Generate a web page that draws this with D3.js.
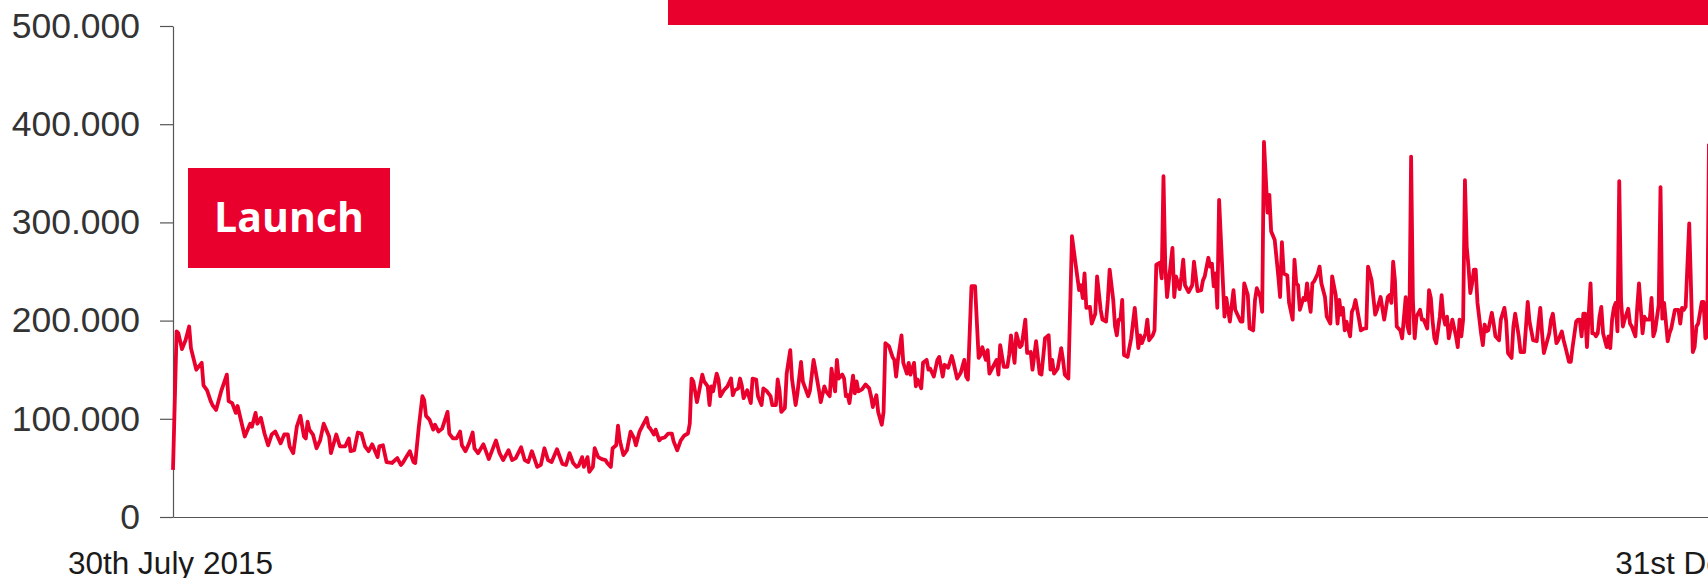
<!DOCTYPE html>
<html>
<head>
<meta charset="utf-8">
<script src="https://cdn.jsdelivr.net/npm/d3@7"></script>
<style>
  html, body { margin: 0; padding: 0; background: #fff; overflow: hidden; }
  svg { display: block; }
</style>
</head>
<body>
<svg id="visitors-chart" width="1708" height="578"></svg>
<script>
const svg = d3.select('#visitors-chart');

const width = +svg.attr('width');
const height = +svg.attr('height');

// first and last day of the x axis
const startDate = new Date(2015, 6, 30);
const endDate = new Date(2017, 11, 31);
const xTickLabels = ['30th July 2015', '31st December 2017'];
const yTicks = [0, 100, 200, 300, 400, 500];
const launchLabel = 'Launch';

// days after 30th July 2015, and daily visitors in thousands on that day
const dayOffsets = [
  0,2,3,5,7,9,10,13,16,17, 19,21,22,24,27,30,31,33,35,36,
  40,43,44,46,47,49,51,53,55,57, 60,62,64,65,67,69,71,73,74,75,
  76,78,80,82,84,87,88,91,93,96, 98,99,101,103,105,107,109,111,114,115,
  117,119,122,125,127,128,130,132,134,135, 137,139,140,141,143,
  145,146,148,150,153,154,156,158,160,161, 163,165,167,168,170,173,176,180,182,184,
  187,189,191,194,196,198,200,203,205,207, 209,211,214,217,219,221,223,225,226,228,
  229,231,232,234,235,237,239,241,242,244, 245,247,248,249,251,253,255,257,258,260,
  262,264,265,266,268,269,271,272,274,276, 278,279,281,283,
  285,287,288,289,290,292,293,295,296,298, 299,300,301,303,304,305,307,309,311,312,
  313,315,316,317,318,320,322,323,325,326, 328,329,331,333,334,336,337,338,339,341,
  342,344,345,347,348,350,351,352,354,355, 357,358,360,361,363,364,366,367,368,369,
  370,371,373,374,375,376,377,379,380,381, 382,384,386,388,389,390,392,393,395,396,
  397,399,401,402,403,404,406,407,409,410, 411,413,414,415,417,418,420,421,422,424,
  426,427,
  429,430,432,434,435,437,439,441,442,443, 445,447,449,450,451,453,454,455,457,459,
  460,461,463,465,466,467,469,470,472,473, 475,476,478,479,481,483,484,486,488,489,
  490,491,493,495,496,497,499,501,503,505, 506,507,508,509,511,512,514,515,517,518,
  520,521,522,524,525,526,527,528,529,530, 532,534,536,538,539,540,542,543,544,546,
  547,548,550,551,552,553,554,557,558,559, 561,562,563,564,566,568,569,
  571,573,574,575,577,578,579,580,581,582, 583,586,587,589,591,592,593,595,596,597,
  599,600,602,603,604,606,607,608,610,611, 612,614,616,617,618,619,621,622,624,625,
  626,627,628,630,631,632,633,634,635,636, 638,639,640,642,643,645,646,648,649,650,
  651,652,653,654,656,657,658,659,661,662, 664,665,666,668,670,671,673,675,677,678,
  679,680,681,682,684,685,687,688,689,690, 691,692,693,695,696,697,699,700,701,702,
  703,704,706,707,708,709,710,711,
  713,715,716,717,718,719,720,721,722,723, 724,725,726,727,729,730,731,732,733,735,
  736,737,739,740,742,743,744,746,747,748, 750,751,753,755,756,758,760,761,762,763,
  764,767,768,769,771,772,774,775,776,778, 779,780,782,783,784,785,786,787,788,789,
  790,791,792,793,794,795,796,797,799,800, 801,802,803,804,805,806,807,808,809,811,
  812,813,815,816,817,819,820,821,823,824, 825,826,828,829,830,831,833,834,835,837,
  839,840,841,842,843,845,847,848,849,850, 852,853,854,855,856
];
const visitors = [
  48,189,187,171,180,194,172,150,157,134, 129,118,114,109,129,145,118,116,106,113,
  82,95,92,106,95,101,85,73,84,87, 75,84,84,72,65,92,103,82,80,97,
  89,84,70,78,95,82,65,84,72,72, 80,67,68,86,85,72,67,74,61,72,
  73,56,55,60,53,55,61,67,56,55, 92,123,119,103,99,
  89,94,87,90,107,85,80,80,87,73, 67,75,86,70,65,74,59,78,65,58,
  68,58,60,71,58,56,67,51,53,70, 58,56,69,54,53,65,55,51,52,61,
  51,61,46,51,70,61,59,58,55,51, 70,73,93,78,63,68,87,80,73,87,
  94,101,92,90,84,89,78,80,81,85, 85,77,68,78,
  83,85,95,141,138,117,126,145,138,133, 114,133,128,146,140,123,129,133,141,124,
  129,131,141,134,121,129,116,141,140,123, 114,131,128,123,114,114,140,129,107,111,
  146,170,140,114,126,158,138,133,123,129, 160,150,129,117,133,128,123,151,138,128,
  160,141,145,141,123,124,116,144,126,138, 128,130,135,131,123,112,124,107,94,107,
  177,174,163,160,143,160,185,157,146,157, 145,157,133,140,131,157,160,150,151,143,
  160,163,
  143,155,152,164,157,141,147,160,143,140, 235,235,162,165,173,160,170,146,153,160,
  145,175,153,153,165,185,157,187,173,175, 201,167,168,150,179,146,145,182,185,150,
  160,146,151,172,160,145,141,286,258,231, 236,223,248,213,214,197,207,245,211,201,
  199,221,252,221,194,185,201,201,221,165, 163,182,213,172,185,177,187,201,180,185,
  190,257,259,243,347,255,224,274,224,245, 232,245,262,236,229,236,260,
  230,231,241,245,264,255,258,235,248,213, 323,204,223,199,231,211,207,199,199,238,
  226,192,190,221,233,224,209,382,310,328, 291,282,245,224,280,248,246,218,201,262,
  238,236,211,223,221,238,221,209,238,240, 248,255,238,224,204,197,245,226,197,221,
  206,213,190,199,184,209,213,221,201,190, 192,192,255,241,206,211,224,201,224,226,
  218,260,241,194,190,182,224,194,187,367, 221,182,204,211,201,201,192,231,223,199,
  182,177,204,226,204,196,204,182,
  201,184,173,201,184,201,343,275,255,228, 238,252,252,218,187,175,196,189,190,208,
  197,184,180,201,213,199,167,162,194,207, 184,168,168,219,199,180,179,197,213,187,
  167,187,201,207,177,180,189,180,173,158, 158,173,199,201,201,184,207,207,173,207,
  238,187,187,184,187,204,214,187,173,184, 172,201,213,218,189,342,221,194,201,212,
  197,194,184,213,238,187,204,201,201,223, 184,190,216,336,202,218,179,187,192,211,
  211,197,213,211,214,299,168,173,194,197, 219,219,182,184,380
];

// 500.000 style numbers
const numberFormat = d3.formatLocale({
  decimal: ',', thousands: '.', grouping: [3], currency: ['', ' €']
}).format(',');

const red = '#e9002c';

const render = data => {
  const xValue = d => d.date;
  const yValue = d => d.value;

  // the plot runs on past the right edge of the picture
  const margin = { top: 26, right: -53, bottom: 61, left: 173 };
  const innerWidth = width - margin.left - margin.right;
  const innerHeight = height - margin.top - margin.bottom;

  const xScale = d3.scaleTime()
    .domain([startDate, endDate])
    .range([0, innerWidth]);

  const yScale = d3.scaleLinear()
    .domain([0, d3.max(yTicks)])
    .range([innerHeight, 0]);

  // banner at the top (cut by the frame)
  svg.append('rect')
    .attr('x', 668)
    .attr('y', 0)
    .attr('width', width - 668)
    .attr('height', 25)
    .attr('fill', red);

  const g = svg.append('g')
    .attr('transform', `translate(${margin.left}, ${margin.top})`);

  const yAxis = g.append('g').call(d3.axisLeft(yScale)
      .tickValues(yTicks)
      .tickFormat(d => numberFormat(d * 1000))
      .tickSize(13)
      .tickSizeOuter(0)
      .tickPadding(20))
    .attr('font-size', '35.5px')
    .attr('font-family', '"Liberation Sans", Arial, sans-serif');
  yAxis.selectAll('text').attr('fill', '#333');

  const xAxis = g.append('g').call(d3.axisBottom(xScale)
      .tickValues([startDate, endDate])
      .tickFormat((d, i) => xTickLabels[i])
      .tickSize(0)
      .tickSizeOuter(0)
      .tickPadding(35))
    .attr('transform', `translate(0, ${innerHeight})`)
    .attr('font-size', '31.5px')
    .attr('font-family', '"Liberation Sans", Arial, sans-serif');
  xAxis.selectAll('text')
    .attr('fill', '#1a1a1a')
    .attr('dx', (d, i) => i === 0 ? -3 : 0);

  g.selectAll('.domain, .tick line')
    .attr('stroke', '#555')
    .attr('stroke-width', 1.2);

  const line = d3.line()
    .x(d => xScale(xValue(d)))
    .y(d => yScale(yValue(d)));

  g.append('path')
    .datum(data)
    .attr('d', line)
    .attr('fill', 'none')
    .attr('stroke', red)
    .attr('stroke-width', 3.8)
    .attr('stroke-linejoin', 'round');

  // launch note
  svg.append('rect')
    .attr('x', 188)
    .attr('y', 168)
    .attr('width', 202)
    .attr('height', 100)
    .attr('fill', red);

  svg.append('text')
    .attr('x', 289)
    .attr('y', 232)
    .attr('text-anchor', 'middle')
    .attr('font-family', '"Open Sans", sans-serif')
    .attr('font-weight', 700)
    .attr('font-size', '41px')
    .attr('fill', '#fff')
    .text(launchLabel);
};

const data = dayOffsets.map((d, i) => ({
  date: d3.timeDay.offset(startDate, d),
  value: visitors[i]
}));
render(data);
</script>
</body>
</html>
